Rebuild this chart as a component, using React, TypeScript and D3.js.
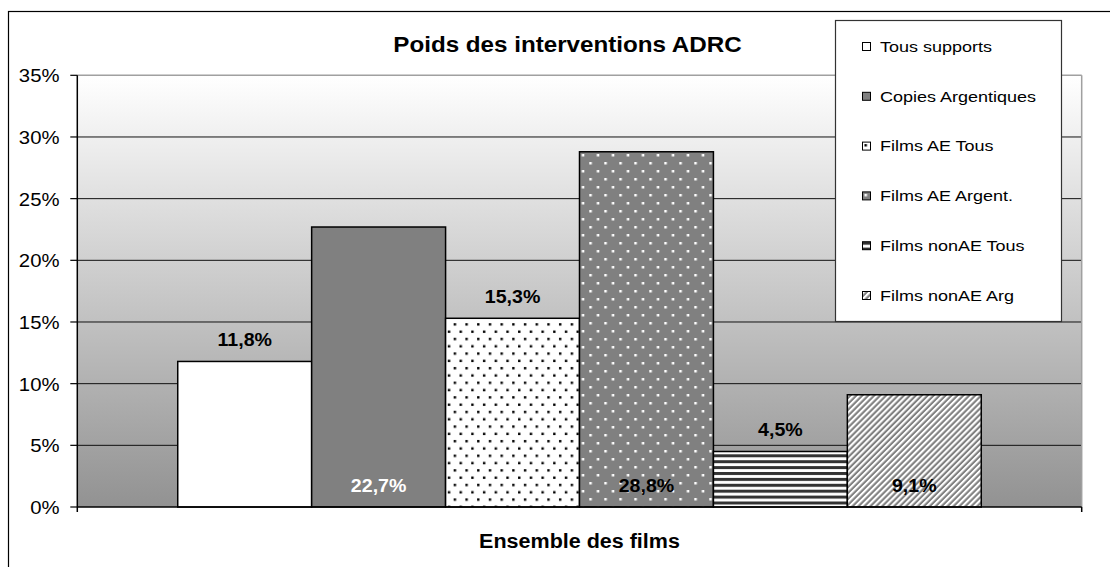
import React from "react";
import * as d3 from "d3";

const categories = ["Ensemble des films"];
const seriesNames = [
  "Tous supports",
  "Copies Argentiques",
  "Films AE Tous",
  "Films AE Argent.",
  "Films nonAE Tous",
  "Films nonAE Arg",
];
const seriesValues = [11.8, 22.7, 15.3, 28.8, 4.5, 9.1];
const yTickValues = [0, 5, 10, 15, 20, 25, 30, 35];
const chartTitle = "Poids des interventions ADRC";

const FONT = '"Liberation Sans", Arial, Helvetica, sans-serif';
const fr = d3.formatLocale({ decimal: ",", thousands: "\u00a0", grouping: [3], currency: ["", "\u00a0€"] });
const fmt1 = fr.format(".1f");
const fmt0 = fr.format(".0f");

const fills = ["#ffffff", "#808080", "url(#p2)", "url(#p3)", "url(#p4)", "url(#p5)"];
const labelInside = [false, true, false, true, false, true];
const labelColor = ["#000", "#fff", "#000", "#000", "#000", "#000"];

function Patterns({ prefix, ox, oy }: { prefix: string; ox: number; oy: number }) {
  return (
    <>
      <pattern id={`${prefix}2`} patternUnits="userSpaceOnUse" x={ox} y={oy} width={11.7} height={14.6}>
        <rect width={11.7} height={14.6} fill="#fff" />
        <rect x={2} y={2} width={2.4} height={2.4} fill="#000" />
        <rect x={7.85} y={9.3} width={2.4} height={2.4} fill="#000" />
      </pattern>
      <pattern id={`${prefix}3`} patternUnits="userSpaceOnUse" x={ox} y={oy} width={15} height={16}>
        <rect width={15} height={16} fill="#808080" />
        <rect x={2} y={2} width={2.5} height={2.5} fill="#fff" />
        <rect x={9.5} y={10} width={2.5} height={2.5} fill="#fff" />
      </pattern>
      <pattern id={`${prefix}4`} patternUnits="userSpaceOnUse" x={ox} y={oy} width={6} height={5.9}>
        <rect width={6} height={5.9} fill="#fff" />
        <rect y={0} width={6} height={3} fill="#333" />
      </pattern>
      <pattern id={`${prefix}5`} patternUnits="userSpaceOnUse" x={ox} y={oy} width={4.2} height={4.2} patternTransform="rotate(45)">
        <rect width={4.2} height={4.2} fill="#808080" />
        <rect width={2.1} height={4.2} fill="#fff" />
      </pattern>
    </>
  );
}

function SText(props: any) {
  const { x, y, sx = 1, children, ...rest } = props;
  return (
    <text transform={`translate(${x},${y}) scale(${sx},1)`} fontFamily={FONT} {...rest}>
      {children}
    </text>
  );
}

export default function App() {
  const W = 1110;
  const H = 567;
  const L = 77.3;
  const R = 1081.7;
  const T = 75.3;
  const B = 507;

  const y = d3.scaleLinear().domain([0, 35]).range([B, T]);
  const xc = d3.scaleBand().domain(categories).range([L, R]);
  const xs = d3
    .scaleBand()
    .domain(seriesNames)
    .range([0, xc.bandwidth()])
    .paddingInner(0)
    .paddingOuter(0.75);

  const legX = 835.5;
  const legY = 20.5;
  const legW = 226;
  const legH = 301;
  const legItem0 = 46.5;
  const legStep = 49.8;

  return (
    <svg
      width={W}
      height={H}
      style={{ position: "absolute", left: 0, top: 0, background: "#fff" }}
    >
      <defs>
        <linearGradient id="bg" x1="0" y1="0" x2="0" y2="1">
          <stop offset="0" stopColor="#ffffff" />
          <stop offset="1" stopColor="#929292" />
        </linearGradient>
        <Patterns prefix="p" ox={0} oy={0} />
        {seriesNames.map((s, i) => (
          <g key={s}>
            <Patterns prefix={`lg${i}_`} ox={862.5} oy={legItem0 + i * legStep - 4} />
          </g>
        ))}
      </defs>

      {/* outer chart border */}
      <rect x={8.5} y={11.5} width={W + 20} height={H + 20} fill="#fff" stroke="#000" strokeWidth={1.2} />

      {/* plot background */}
      <rect x={L} y={T} width={R - L} height={B - T} fill="url(#bg)" />

      {/* gridlines */}
      {yTickValues
        .filter((v) => v > 0 && v < 35)
        .map((v) => (
          <line key={v} x1={L} x2={R} y1={y(v)} y2={y(v)} stroke="#111" strokeWidth={1} />
        ))}
      <line x1={L} x2={R} y1={y(35)} y2={y(35)} stroke="#a0a0a0" strokeWidth={1.5} />
      <line x1={R} x2={R} y1={T} y2={B} stroke="#a0a0a0" strokeWidth={1.5} />

      {/* bars */}
      {categories.map((c) => (
        <g key={c} transform={`translate(${xc(c)},0)`}>
          {seriesNames.map((s, i) => (
            <rect
              key={s}
              x={xs(s)}
              y={y(seriesValues[i])}
              width={xs.bandwidth()}
              height={B - y(seriesValues[i])}
              fill={fills[i]}
              stroke="#000"
              strokeWidth={1.5}
            />
          ))}
          {seriesNames.map((s, i) => (
            <SText
              key={s + "l"}
              x={(xs(s) as number) + xs.bandwidth() / 2}
              y={labelInside[i] ? B - 15 : y(seriesValues[i]) - 15}
              sx={1.12}
              textAnchor="middle"
              fontSize={17.5}
              fontWeight="bold"
              fill={labelColor[i]}
            >
              {fmt1(seriesValues[i]) + "%"}
            </SText>
          ))}
        </g>
      ))}

      {/* axes */}
      <line x1={L} x2={L} y1={T} y2={B + 5} stroke="#000" strokeWidth={1.5} />
      <line x1={L} x2={R} y1={B} y2={B} stroke="#000" strokeWidth={1.5} />
      <line x1={R} x2={R} y1={B} y2={B + 5} stroke="#000" strokeWidth={1.5} />
      {yTickValues.map((v) => (
        <g key={v}>
          <line x1={L - 7} x2={L} y1={y(v)} y2={y(v)} stroke="#000" strokeWidth={1.2} />
          <SText x={59.5} y={y(v) + 7} sx={1.07} textAnchor="end" fontSize={19} fill="#000">
            {fmt0(v) + "%"}
          </SText>
        </g>
      ))}

      {/* title */}
      <SText x={567.5} y={51.7} sx={1.1} textAnchor="middle" fontSize={22} fontWeight="bold" fill="#000">
        {chartTitle}
      </SText>

      {/* x axis title */}
      {categories.map((c) => (
        <SText
          key={c}
          x={(xc(c) as number) + xc.bandwidth() / 2}
          y={547.5}
          sx={1.05}
          textAnchor="middle"
          fontSize={20.5}
          fontWeight="bold"
          fill="#000"
        >
          {c}
        </SText>
      ))}

      {/* legend */}
      <rect x={legX} y={legY} width={legW} height={legH} fill="#fff" stroke="#333" strokeWidth={1.2} />
      {seriesNames.map((s, i) => {
        const cy = legItem0 + i * legStep;
        const mf = i < 2 ? fills[i] : `url(#lg${i}_${i})`;
        return (
          <g key={s}>
            <rect x={862.5} y={cy - 4} width={8} height={8} fill={mf} stroke="#000" strokeWidth={1} />
            <SText x={880} y={cy + 5.3} sx={1.2} fontSize={15} fill="#000">
              {s}
            </SText>
          </g>
        );
      })}
    </svg>
  );
}
